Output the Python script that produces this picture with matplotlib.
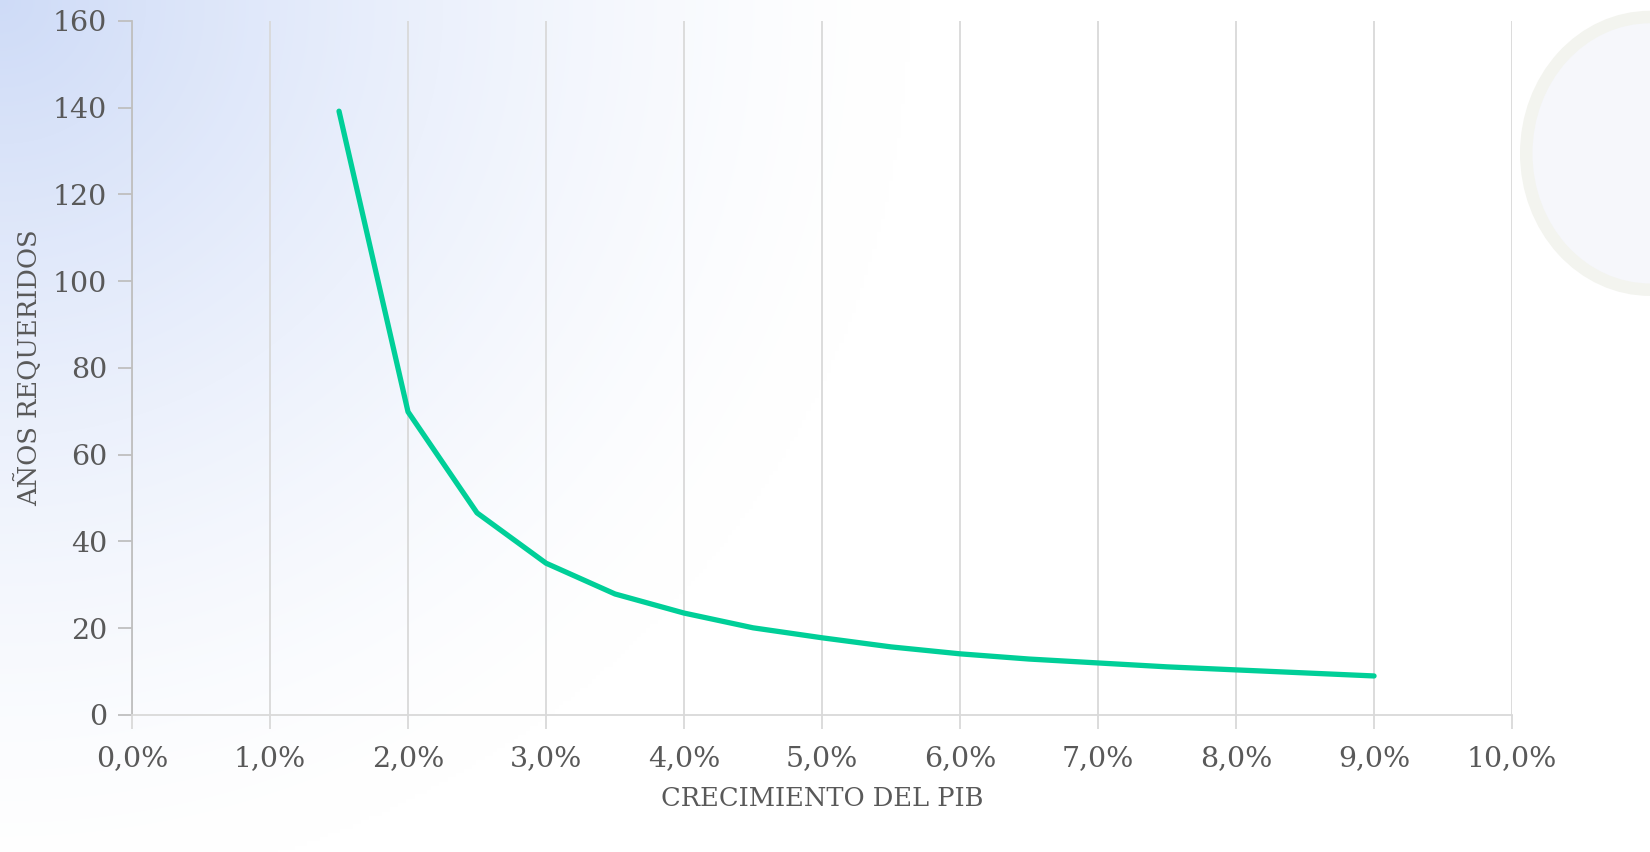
import numpy as np
import matplotlib
matplotlib.use("Agg")
import matplotlib.pyplot as plt
import matplotlib.ticker as mticker
from matplotlib.patches import Ellipse

# data
growth = [1.5, 2.0, 2.5, 3.0, 3.5, 4.0, 4.5, 5.0, 5.5, 6.0, 6.5, 7.0, 7.5, 8.0, 8.5, 9.0]
years = [139.2, 69.9, 46.6, 35.0, 27.9, 23.5, 20.1, 17.8, 15.7, 14.1, 12.9, 12.0, 11.1, 10.4, 9.7, 9.0]
x_ticks = np.arange(0, 11, 1)
y_ticks = np.arange(0, 161, 20)

text_color = "#595959"
grid_color = "#d9d9d9"
axis_color = "#bfbfbf"
line_color = "#00cf98"

plt.rcParams["font.family"] = ["DejaVu Serif"]

fig = plt.figure(figsize=(16.5, 8.52), dpi=100, facecolor="white")

# background: soft blue wash in the top-left corner fading to white
bg = fig.add_axes([0, 0, 1, 1], zorder=-10)
yy, xx = np.mgrid[0:1:200j, 0:1:400j]
t = np.clip(1.0 - np.hypot(xx / 0.55, (1 - yy) / 1.05), 0, 1) ** 1.4
top = np.array([0.81, 0.86, 0.97])
white = np.array([1.0, 1.0, 1.0])
img = white[None, None, :] * (1 - t[..., None]) + top[None, None, :] * t[..., None]
bg.imshow(img, extent=[0, 1, 0, 1], aspect="auto", origin="lower", interpolation="bilinear")
# faint decorative ring at the top right
bg.add_patch(Ellipse((1.0, 0.82), 0.15, 0.32, facecolor="#f6f7fb", edgecolor="#f3f4ef",
                     lw=9, transform=bg.transAxes))
bg.set_xlim(0, 1)
bg.set_ylim(0, 1)
bg.axis("off")

ax = fig.add_axes([0.08, 0.1608, 0.8364, 0.8146])
ax.patch.set_alpha(0)

ax.plot(growth, years, color=line_color, linewidth=3.8, solid_capstyle="round")

ax.set_xlim(0, 10)
ax.set_ylim(0, 160)
ax.set_xticks(x_ticks)
ax.set_yticks(y_ticks)
ax.xaxis.set_major_formatter(mticker.FuncFormatter(lambda v, _: f"{v:.1f}%".replace(".", ",")))

ax.grid(True, axis="x", color=grid_color, linewidth=1.3)
ax.set_axisbelow(True)
for side in ("top", "right"):
    ax.spines[side].set_visible(False)
ax.spines["left"].set_color(axis_color)
ax.spines["bottom"].set_color(grid_color)
ax.spines["left"].set_linewidth(1.3)
ax.spines["bottom"].set_linewidth(1.3)
ax.tick_params(axis="y", colors=axis_color, length=10, width=1.3, labelcolor=text_color,
               labelsize=20.5, pad=8)
ax.tick_params(axis="x", colors=grid_color, length=10, width=1.3, labelcolor=text_color,
               labelsize=20.5, pad=12)

ax.set_xlabel("CRECIMIENTO DEL PIB", fontsize=18.5, color=text_color, labelpad=10)
ax.set_ylabel("AÑOS REQUERIDOS", fontsize=18.5, color=text_color, labelpad=8)

fig.savefig("out.png", dpi=100, facecolor="white")
